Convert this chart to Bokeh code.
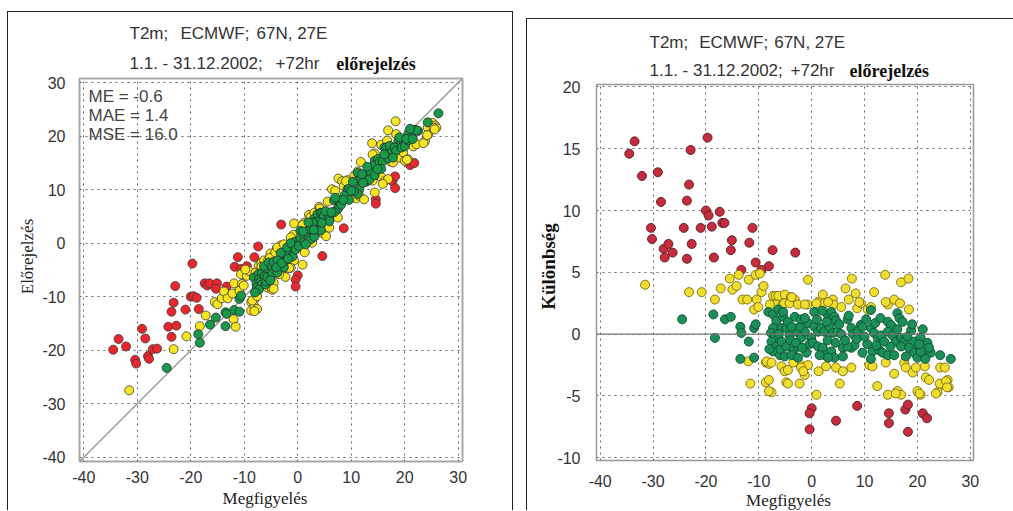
from math import pi
from bokeh.plotting import figure
from bokeh.layouts import row, column
from bokeh.models import Label, Span, FixedTicker
from bokeh.core.properties import value
from bokeh.embed import file_html
from bokeh.resources import INLINE

# ---------------- data (observation, forecast - observation) ----------------
red_obs = [-34.5, -33.5, -32.1, -29.1, -28.5, -30.4, -30.2, -28.0, -27.1, -26.3,
           -27.8, -23.6, -23.2, -22.9, -24.2, -23.6, -22.7, -21.0, -19.7, -20.0,
           -19.5, -18.9, -17.4, -16.9, -16.5, -18.5, -15.1, -15.3, -11.8, -11.2,
           -7.4, -10.6, -8.1, -9.5, -13.3, -3.1,
           0.0, -0.4, -0.4, 4.6, 8.6, 14.6, 14.6, 17.7, 18.2, 18.2, 21.0, 21.8]
red_diff = [14.6, 15.6, 12.8, 13.1, 10.7, 8.6, 7.7, 6.9, 7.3, 6.6,
            6.2, 10.8, 12.1, 14.9, 8.6, 6.1, 7.3, 8.6, 15.9, 10.0,
            9.6, 8.7, 9.9, 9.0, 9.0, 6.2, 7.6, 6.8, 7.4, 8.6,
            6.8, 5.8, 5.5, 5.2, 5.2, 6.6,
            -6.0, -6.4, -7.7, -7.0, -5.8, -6.4, -7.2, -6.1, -5.7, -7.9, -6.4, -6.8]

yellow_obs = [-31.5, -23.2, -20.8, -18.3, -17.2, -15.5, -15.0, -14.2, -13.8, -13.1,
              -12.2, -11.9, -10.6, -10.4, -10.9, -10.1, -9.5, -9.1, -9.8, -7.3,
              -6.8, -6.3, -6.8, -5.5, -5.1, -3.9, -3.2, -5.2, -4.2, -0.7,
              -0.8, 1.2, 2.1, 2.4, 4.0, 4.1, 5.6, 6.4, 7.0, 7.6,
              8.3, 8.6, 9.3, 10.6, 11.8, 13.9, 14.4, 15.6, 16.7, 16.9,
              18.3, 18.4, -3.8, -2.6, -1.3, -7.9, 3.1, 0.9, 11.2, 14.0, 9.0,
              -12.0, -8.7, -8.1, -5.7, -11.6, -8.7, -8.1, -7.6, -4.8, -5.1,
              -4.5, -2.1, -0.7, -1.3, 1.3, 2.7, 4.6, 5.9, 7.5, 10.9,
              11.5, 14.0, 15.6, 17.5, 17.8, 19.1, 19.7, 21.4, 21.6, 22.2,
              24.3, 25.2, 25.7, 24.4, 25.9, 23.8, -4.5, -2.3, 0.9, 5.3,
              12.4, 14.4, 16.2, 16.9, 20.0, 20.6, 15.9, 20.4, 23.5, 24.2,
              25.4, 25.6, -8.1, -8.5, -3.5, -2.0, -1.6, -7.6]
yellow_diff = [4.0, 3.4, 3.4, 2.8, 3.7, 4.5, 3.6, 3.9, 4.8, 2.8,
               2.8, 4.4, 4.8, 2.8, 2.0, 2.2, 3.4, 3.9, 4.9, 3.1,
               3.1, 3.1, 2.4, 2.4, 3.2, 3.0, 2.8, 2.5, 2.5, 4.4,
               2.4, 2.6, 3.2, 2.5, 2.8, 2.4, 2.2, 3.7, 2.8, 4.5,
               3.3, 2.1, 2.5, 2.0, 3.4, 4.8, 2.4, 2.8, 2.5, 4.2,
               4.5, 2.0, 3.0, 2.4, 2.4, 2.4, 2.6, 2.5, 2.2, 2.6, 2.6,
               -2.2, -2.3, -2.4, -2.6, -4.0, -3.9, -3.7, -4.7, -3.9, -3.0,
               -2.9, -2.5, -2.5, -3.3, -3.0, -2.6, -2.7, -3.0, -2.7, -2.5,
               -2.6, -2.3, -3.2, -2.3, -2.7, -3.1, -2.7, -2.6, -3.5, -3.7,
               -2.7, -2.7, -3.7, -4.1, -4.3, -4.7, -4.0, -4.0, -4.9, -4.0,
               -4.2, -4.9, -4.6, -4.9, -4.6, -4.9, -4.8, -4.8, -4.8, -4.0,
               -3.8, -4.3, -4.6, -2.2, -2.3, -2.7, -3.0, -2.3]

green_obs = [-24.5, -18.6, -18.3, -16.4, -15.3, -13.5, -13.3, -11.9, -10.9, -10.6,
             -13.5, -10.9,
             -8.2, -7.3, -6.7, -7.3, -7.7, -7.0, -7.6, -6.7, -7.3, -6.0,
             -5.7, -5.4, -6.3, -5.4, -8.0, -6.2, -5.9,
             -5.4, -4.8, -4.2, -2.9, -2.0, -1.3, -0.7, -0.1, -2.3, -1.0,
             -3.2, -2.0, -1.3, -4.5, -3.8, -5.7, -4.8, -3.5, -2.6, -5.1,
             -3.8, -2.6, -0.4, -4.0, -3.0, -1.8,
             0.5, 3.1, 3.7, 4.3, 4.6, 6.8, 9.3, 0.5, 1.2, 1.8,
             2.4, 3.4, 4.0, 4.9, 5.6, 7.5, 7.8, 8.7, 9.6, 0.2,
             1.2, 2.1, 2.4, 3.7, 4.3, 5.9, 5.9, 7.5, 8.1, 9.6,
             1.5, 3.1, 6.8, 2.8, 5.2, 6.3, 8.5, 1.0, 2.0, 4.5,
             3.0, 7.0,
             11.2, 14.4, 15.0, 16.2, 16.6, 17.2, 18.8, 11.2, 11.8, 12.5,
             13.1, 13.7, 14.4, 15.3, 15.9, 16.9, 17.5, 18.1, 19.4, 20.6,
             21.9, 20.3, 21.3, 22.5, 24.3, 26.3, 11.5, 11.2, 12.8, 13.4,
             14.4, 15.6, 16.9, 18.4, 19.4, 20.0, 20.6, 22.2, 10.3, 12.0,
             13.0, 10.5, 19.0, 21.0, 17.8, 12.2, 14.9, 16.2, 20.3, 21.5,
             10.0]
green_diff = [1.2, 1.6, -0.3, 1.2, 1.4, 0.6, 0.1, -0.6, 0.5, 0.8,
              -2.0, -1.9,
              1.8, 1.6, 1.1, 0.5, 0.1, -0.2, -0.6, -1.0, -1.4, -1.7,
              0.5, 1.4, 2.0, -0.9, -1.2, 0.0, -1.2,
              1.8, 0.5, -0.1, 0.2, -0.3, 0.2, 0.9, -0.3, 0.6, -1.5,
              1.4, 1.2, 1.3, 1.0, 0.6, -0.6, -1.0, -1.3, -1.0, -1.8,
              -1.7, -1.9, -0.8, -0.5, -0.7, -1.1,
              1.8, 1.5, 1.8, 1.4, 1.1, 1.2, 0.75, 0.6, 0.2, 0.5,
              0.2, 0.6, 0.1, 0.2, 0.0, 0.5, 0.0, 0.2, 0.6, -0.7,
              -1.0, -1.1, -1.7, -1.4, -1.9, -1.1, -1.8, -1.1, -0.9, -1.5,
              -1.7, -1.9, -1.0, 1.0, 0.8, -0.5, -0.4, 1.2, 1.9, -0.7,
              -0.5, 1.5,
              1.95, 1.0, 0.75, 1.7, 1.3, 1.0, 0.3, 0.5, 0.1, -0.3,
              -0.1, -0.6, 0.2, -0.1, -0.6, -0.3, -0.6, -0.2, -0.6, -0.3,
              -0.7, -1.1, -1.5, -1.5, -1.7, -2.0, -1.4, -2.0, -1.3, -1.5,
              -1.7, -1.7, -1.0, -1.1, -1.5, -1.9, -1.4, -1.1, 1.2, 0.9,
              1.3, -0.8, 0.8, 0.4, -1.8, -0.9, -1.0, 0.4, -0.8, -2.0,
              -0.2]

x_ticks = [-40, -30, -20, -10, 0, 10, 20, 30]
left_y_ticks = [-40, -30, -20, -10, 0, 10, 20, 30]
right_y_ticks = [-10, -5, 0, 5, 10, 15, 20]
left_range = [-40.8, 30.8]
stats = ["ME = -0.6", "MAE = 1.4", "MSE = 16.0"]
title1_parts = ["T2m;", "ECMWF;", "67N, 27E"]
title2_parts = ["1.1. - 31.12.2002;", "+72hr"]
title2b = "előrejelzés"
xtitle = "Megfigyelés"
ytitle_left = "Előrejelzés"
ytitle_right = "Különbség"


def fc(obs, diff):
    return [o + d for o, d in zip(obs, diff)]


SANS = "Liberation Sans"
SERIF = "Liberation Serif"


def no_align(p):
    try:
        p.frame_align = False
    except Exception:
        pass


def style_axes(p, yticks, xstand, ystand):
    p.xaxis.ticker = FixedTicker(ticks=x_ticks)
    p.yaxis.ticker = FixedTicker(ticks=yticks)
    p.xaxis.major_label_overrides = {t: str(t) for t in x_ticks}
    p.yaxis.major_label_overrides = {t: str(t) for t in yticks}
    for ax in (p.xaxis, p.yaxis):
        ax.axis_line_color = None
        ax.major_tick_line_color = None
        ax.minor_tick_line_color = None
        ax.major_tick_out = 0
        ax.major_tick_in = 0
        ax.minor_tick_out = 0
        ax.major_label_text_font = SANS
        ax.major_label_text_font_size = "16px"
        ax.major_label_text_color = "#333333"
    p.xaxis.major_label_standoff = xstand
    p.yaxis.major_label_standoff = ystand
    p.xgrid.ticker = FixedTicker(ticks=x_ticks)
    p.ygrid.ticker = FixedTicker(ticks=yticks)
    p.grid.grid_line_color = "#666666"
    p.grid.grid_line_dash = "2 4"
    p.grid.grid_line_width = 1
    p.border_fill_color = None
    p.background_fill_color = "white"
    no_align(p)


def text_layer(W, H, items):
    """Full-panel figure that only carries the free texts (titles, axis titles)."""
    t = figure(width=W, height=H, x_range=(0, W), y_range=(0, H),
               min_border=0, min_border_left=0, min_border_right=0,
               min_border_top=0, min_border_bottom=0,
               x_axis_type=None, y_axis_type=None,
               output_backend="svg", toolbar_location=None)
    no_align(t)
    t.outline_line_color = None
    t.grid.visible = False
    t.background_fill_color = "white"
    t.border_fill_color = "white"
    for (x, y, s, font, size, style, color, align, angle) in items:
        t.text(x=[x], y=[y], text=[s], text_font=value(font), text_font_size=size,
               text_font_style=style, text_color=color, text_align=align,
               text_baseline="middle", angle=angle)
    return t


def title_items(H, xs1, y1, xs2, xb, y2):
    items = []
    for x, s in zip(xs1, title1_parts):
        items.append((x, H - y1, s, SANS, "17px", "normal", "#333333", "left", 0))
    for x, s in zip(xs2, title2_parts):
        items.append((x, H - y2, s, SANS, "17px", "normal", "#333333", "left", 0))
    items.append((xb, H - y2, title2b, SERIF, "18px", "bold", "#111111", "left", 0))
    return items


# ---------------- left panel ----------------
LW, LH = 504, 498
t1 = text_layer(LW, LH, title_items(LH, [121, 172, 248], 21, [121, 267], 327.7, 51) + [
    (19, LH - 244, ytitle_left, SERIF, "17px", "normal", "#222222", "center", pi / 2),
    (256.5, LH - 486, xtitle, SERIF, "17px", "normal", "#222222", "center", 0),
])

p1 = figure(frame_width=383, frame_height=383,
            min_border_left=71, min_border_right=50, min_border_top=66, min_border_bottom=49,
            x_range=(left_range[0], left_range[1]), y_range=(left_range[0], left_range[1]),
            output_backend="svg", toolbar_location=None)
style_axes(p1, left_y_ticks, 9, 14)
p1.outline_line_color = "#a8a8a8"
p1.outline_line_width = 2
p1.line(left_range, left_range, line_color="#9a9a9a", line_width=1.5)
p1.scatter(red_obs, fc(red_obs, red_diff), size=9, fill_color="#e8262b", line_color="#3a3a3a", line_width=0.8)
p1.scatter(yellow_obs, fc(yellow_obs, yellow_diff), size=9, fill_color="#f8e51f", line_color="#3a3a3a", line_width=0.8)
p1.scatter(green_obs, fc(green_obs, green_diff), size=9, fill_color="#17994a", line_color="#2a2a2a", line_width=0.8)
for txt, yy in zip(stats, [27.43, 23.88, 20.33]):
    p1.add_layout(Label(x=-39.12, y=yy, text=txt, text_font=SANS, text_font_size="17px",
                        text_color="#444444", text_baseline="middle"))
p1.margin = (-LH, 0, 0, 0)

left_panel = column(t1, p1, spacing=0)
left_panel.margin = (11, 0, 0, 7)
left_panel.styles = {"border-top": "1px solid #222", "border-left": "1px solid #222",
                     "border-right": "1px solid #222"}

# ---------------- right panel ----------------
RW, RH = 486, 491
t2 = text_layer(RW, RH, title_items(RH, [122, 171.7, 246.7], 23, [122, 263], 322, 51) + [
    (21, RH - 247, ytitle_right, SERIF, "19px", "bold", "#111111", "center", pi / 2),
    (261, RH - 481, xtitle, SERIF, "17px", "normal", "#222222", "center", 0),
])

p2 = figure(frame_width=377, frame_height=376,
            min_border_left=69, min_border_right=40, min_border_top=65, min_border_bottom=50,
            x_range=(-40.7, 30.6), y_range=(-10.22, 20.2),
            output_backend="svg", toolbar_location=None)
style_axes(p2, right_y_ticks, 14, 16)
p2.outline_line_color = "#9a9a9a"
p2.outline_line_width = 1.5
p2.add_layout(Span(location=0, dimension="width", line_color="#777777", line_width=1.2))
p2.scatter(red_obs, red_diff, size=9, fill_color="#c52c3c", line_color="#5a1a22", line_width=0.9)
p2.scatter(yellow_obs, yellow_diff, size=9, fill_color="#f0de2e", line_color="#7a6a12", line_width=0.9)
p2.scatter(green_obs, green_diff, size=9, fill_color="#1b8f58", line_color="#0f4f30", line_width=0.9)
p2.margin = (-RH, 0, 0, 0)

right_panel = column(t2, p2, spacing=0)
right_panel.margin = (18, 0, 0, 13)
right_panel.styles = {"border-top": "1px solid #222", "border-left": "1px solid #222"}

layout = row(left_panel, right_panel)
open("out.html", "w").write(file_html(layout, INLINE))
